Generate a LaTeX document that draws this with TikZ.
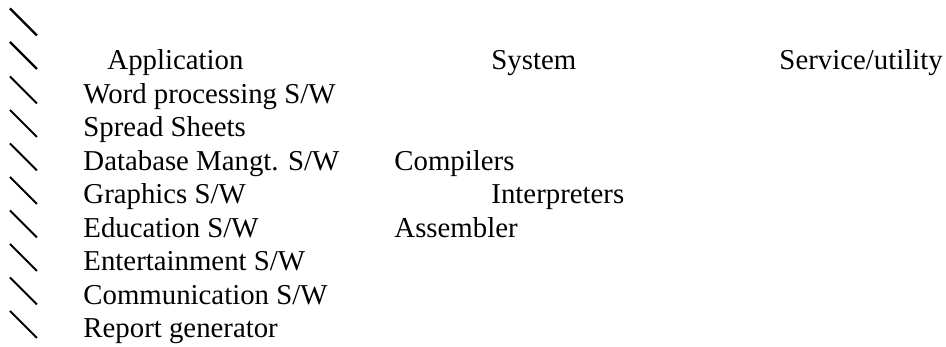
\documentclass[tikz,border=0pt]{standalone}
\usepackage{fontspec}
\setmainfont{Liberation Serif}
\begin{document}
\begin{tikzpicture}[x=0.41667pt,y=-0.41667pt]
    \tikzset{
        entry/.style={anchor=base west,inner sep=0pt,font=\fontsize{12}{14}\selectfont},
        slash/.style={line width=0.75pt},
        boldslash/.style={line width=1pt}
    }
    \useasboundingbox (0,0) rectangle (946,347);
    % marks down the left margin
    \foreach \k in {0,1}
        \draw[boldslash] (10,{8.5+33.5*\k}) -- (37,{35.5+33.5*\k});
    \foreach \k in {2,...,9}
        \draw[slash] (10,{9.5+33.5*\k}) -- (37,{36.5+33.5*\k});
    % heads
    \node[entry] (app) at (107,70) {Application};
    \node[entry] (sys) at (491,70) {System};
    \node[entry] (svc) at (779,70) {Service/utility};
    % application column
    \node[entry] (word)  at (83,103.5) {Word processing S/W};
    \node[entry] (sheet) at (83,137)   {Spread Sheets};
    \node[entry] (dbms)  at (83,170.5) {Database Mangt. S/W};
    \node[entry] (graph) at (83,204)   {Graphics S/W};
    \node[entry] (edu)   at (83,237.5) {Education S/W};
    \node[entry] (ent)   at (83,271)   {Entertainment S/W};
    \node[entry] (comm)  at (83,304.5) {Communication S/W};
    \node[entry] (rep)   at (83,338)   {Report generator};
    % system column
    \node[entry] (comp)  at (394,170.5) {Compilers};
    \node[entry] (inter) at (491,204)   {Interpreters};
    \node[entry] (asm)   at (394,237.5) {Assembler};
\end{tikzpicture}
\end{document}
